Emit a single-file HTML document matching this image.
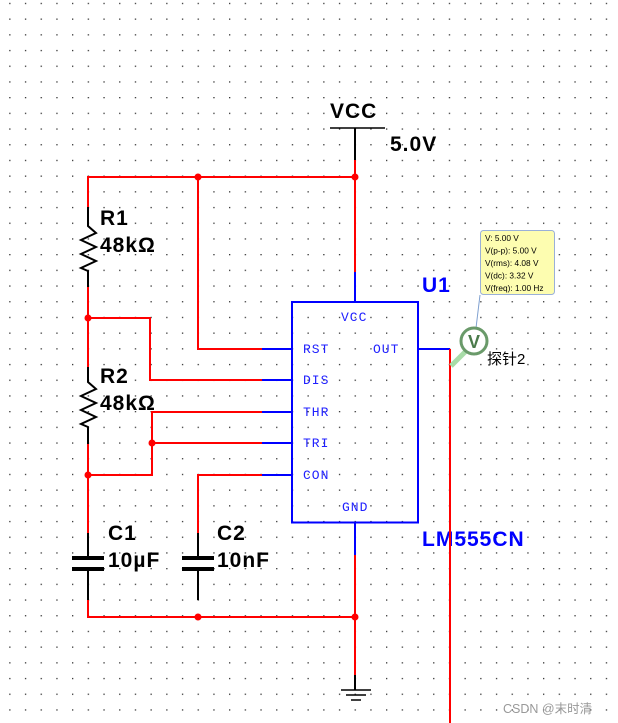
<!DOCTYPE html>
<html><head><meta charset="utf-8"><style>
html,body{margin:0;padding:0;background:#fff;}
svg{display:block;}
.b{font-family:"Liberation Sans",sans-serif;font-weight:bold;letter-spacing:1px;}
.m{font-family:"Liberation Mono",monospace;fill:#2020ff;font-size:13px;letter-spacing:1px;}
</style></head><body>
<svg width="618" height="723" viewBox="0 0 618 723" xmlns="http://www.w3.org/2000/svg">
<defs><pattern id="g" x="9.2" y="2.8" width="15.7" height="15.7" patternUnits="userSpaceOnUse"><rect x="0" y="0" width="1.3" height="1.3" fill="#333"/></pattern></defs>
<rect width="618" height="723" fill="url(#g)"/>
<g fill="none" stroke-width="2">
<path d="M330 128H385" stroke="#000" stroke-width="1.5"/>
<path d="M355 128V160" stroke="#000"/>
<path d="M355 160V272" stroke="#f00"/>
<path d="M355 272V302" stroke="#00f"/>
<path d="M88 207V177H355" stroke="#f00"/>
<path d="M198 177V349H262" stroke="#f00"/>
<path d="M88 207V226L96 233L81 240L96 247L81 254L96 261L81 268L88 271V287" stroke="#000"/>
<path d="M88 287V367" stroke="#f00"/>
<path d="M88 318H150V380H262" stroke="#f00"/>
<path d="M88 367V382L96 389L81 396L96 403L81 410L96 417L81 424L88 427V444" stroke="#000"/>
<path d="M88 444V533" stroke="#f00"/>
<path d="M88 475H152V412H262" stroke="#f00"/>
<path d="M152 443H262" stroke="#f00"/>
<path d="M198 533V475H262" stroke="#f00"/>
<path d="M262 349H292M262 380H292M262 412H292M262 443H292M262 475H292" stroke="#00f"/>
<rect x="292" y="302" width="126" height="220.5" stroke="#00f"/>
<path d="M355 522V555" stroke="#00f"/>
<path d="M418 349H450" stroke="#00f"/>
<path d="M88 533V557M88 570V600" stroke="#000"/>
<path d="M198 533V557M198 570V600" stroke="#000"/>
<path d="M72 558H104M72 569H104M182 558H214M182 569H214" stroke="#000" stroke-width="4"/>
<path d="M88 600V617H355M355 555V675" stroke="#f00"/>
<path d="M355 675V690" stroke="#000"/>
<path d="M341 690H371M346 695H366M351 700H361" stroke="#000" stroke-width="1.5"/>
</g>
<g fill="#f00">
<circle cx="198" cy="177" r="3.5"/><circle cx="355" cy="177" r="3.5"/>
<circle cx="88" cy="318" r="3.5"/><circle cx="152" cy="443" r="3.5"/>
<circle cx="88" cy="475" r="3.5"/><circle cx="198" cy="617" r="3.5"/>
<circle cx="355" cy="617" r="3.5"/>
</g>
<text x="330" y="118" class="b" font-size="21">VCC</text>
<text x="390" y="151" class="b" font-size="21">5.0V</text>
<text x="100" y="225" class="b" font-size="21">R1</text>
<text x="100" y="252" class="b" font-size="21">48kΩ</text>
<text x="100" y="383" class="b" font-size="21">R2</text>
<text x="100" y="410" class="b" font-size="21">48kΩ</text>
<text x="108" y="540" class="b" font-size="21">C1</text>
<text x="108" y="567" class="b" font-size="21">10µF</text>
<text x="217" y="540" class="b" font-size="21">C2</text>
<text x="217" y="567" class="b" font-size="21">10nF</text>
<text x="422" y="292" class="b" font-size="21" fill="#00f">U1</text>
<text x="422" y="546" class="b" font-size="21" fill="#00f">LM555CN</text>
<text x="341" y="321" class="m">VCC</text>
<text x="303" y="353" class="m">RST</text>
<text x="303" y="384" class="m">DIS</text>
<text x="303" y="416" class="m">THR</text>
<text x="303" y="447" class="m">TRI</text>
<text x="303" y="479" class="m">CON</text>
<text x="373" y="353" class="m">OUT</text>
<text x="342" y="511" class="m">GND</text>
<path d="M450 349V723" stroke="#f00" stroke-width="2" fill="none"/>
<path d="M480 295L476 328" stroke="#7fa0d0" stroke-width="1" fill="none"/>
<path d="M451 366L466 351" stroke="#a8dca8" stroke-width="5" fill="none"/>
<circle cx="474" cy="341" r="13" fill="#fff" stroke="#6a9a6a" stroke-width="3"/>
<text x="474" y="348" text-anchor="middle" font-family="Liberation Sans,sans-serif" font-weight="bold" font-size="18" fill="#4a7a4a">V</text>
<text x="487" y="364" font-family="Liberation Sans,'Noto Sans CJK SC',sans-serif" font-size="15">探针2</text>
<rect x="480.5" y="230.5" width="74" height="64" rx="3" fill="#fdfdb0" stroke="#9ab0d8"/>
<g font-family="Liberation Sans,sans-serif" font-size="8.3" fill="#000">
<text x="485" y="241">V: 5.00 V</text>
<text x="485" y="253.5">V(p-p): 5.00 V</text>
<text x="485" y="266">V(rms): 4.08 V</text>
<text x="485" y="278.5">V(dc): 3.32 V</text>
<text x="485" y="291">V(freq): 1.00 Hz</text>
</g>
<text x="503" y="713" font-family="Liberation Sans,'Noto Sans CJK SC',sans-serif" font-size="12.5" fill="#999">CSDN @末时清</text>
</svg>
</body></html>
